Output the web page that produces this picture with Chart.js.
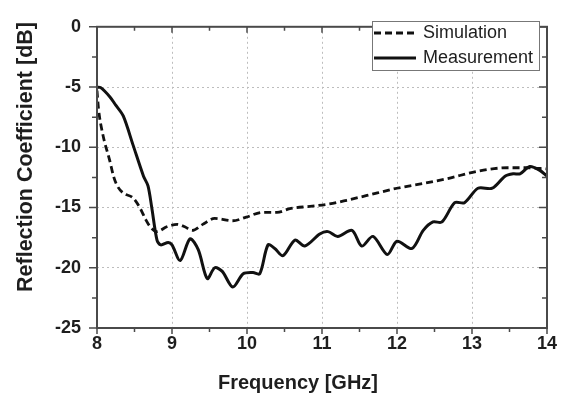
<!DOCTYPE html>
<html>
<head>
<meta charset="utf-8">
<script src="https://cdn.jsdelivr.net/npm/chart.js@4.4.1/dist/chart.umd.min.js"></script>
<style>
html,body{margin:0;padding:0;background:#fff;}
#wrap{width:565px;height:400px;position:relative;}
</style>
</head>
<body>
<div id="wrap"><canvas id="c" width="565" height="400"></canvas></div>
<script>
// ---- data ----
const seriesNames = ['Simulation', 'Measurement'];
const simFreq = [8.0, 8.02, 8.08, 8.17, 8.22, 8.27, 8.35, 8.48, 8.57, 8.65, 8.71, 8.8, 8.93, 9.07, 9.17, 9.27, 9.41, 9.57, 9.81, 9.99, 10.21, 10.4, 10.57, 10.84, 11.1, 11.33, 11.6, 12.0, 12.35, 12.67, 13.07, 13.47, 13.73, 14.0];
const simDb   = [-5.3, -6.8, -9.0, -11.1, -12.4, -13.2, -13.8, -14.2, -15.0, -16.0, -16.6, -17.0, -16.6, -16.4, -16.6, -16.9, -16.4, -15.9, -16.1, -15.8, -15.4, -15.4, -15.1, -14.9, -14.7, -14.4, -14.0, -13.4, -13.0, -12.6, -12.0, -11.7, -11.7, -11.8];
const measFreq = [8.0, 8.05, 8.17, 8.25, 8.35, 8.48, 8.62, 8.68, 8.73, 8.8, 8.85, 8.95, 9.0, 9.11, 9.24, 9.35, 9.47, 9.57, 9.67, 9.81, 9.95, 10.08, 10.17, 10.28, 10.37, 10.48, 10.64, 10.77, 10.97, 11.08, 11.21, 11.4, 11.53, 11.68, 11.87, 12.0, 12.2, 12.35, 12.48, 12.6, 12.77, 12.9, 13.08, 13.27, 13.44, 13.55, 13.64, 13.77, 13.9, 14.0];
const measDb   = [-5.0, -5.05, -5.8, -6.5, -7.4, -9.8, -12.4, -13.2, -15.0, -17.7, -18.1, -17.9, -18.1, -19.4, -17.6, -18.5, -20.9, -20.0, -20.3, -21.6, -20.5, -20.4, -20.5, -18.1, -18.4, -19.0, -17.7, -18.2, -17.2, -17.0, -17.4, -16.9, -18.2, -17.4, -18.9, -17.8, -18.4, -16.9, -16.2, -16.2, -14.6, -14.6, -13.4, -13.4, -12.4, -12.2, -12.2, -11.6, -11.9, -12.4];
const xTicks = [8, 9, 10, 11, 12, 13, 14];
const yTicks = [0, -5, -10, -15, -20, -25];
const xTitle = 'Frequency [GHz]';
const yTitle = 'Reflection Coefficient [dB]';

const pts = (xs, ys) => xs.map((x, i) => ({x: x, y: ys[i]}));

const AXIS = '#4a4a4a';
const TXT = '#1e1e1e';

const framePlugin = {
  id: 'frame',
  afterDraw(chart) {
    const ctx = chart.ctx, a = chart.chartArea;
    const xs = chart.scales.x, ys = chart.scales.y;
    ctx.save();
    ctx.strokeStyle = AXIS;
    ctx.lineWidth = 2;
    ctx.strokeRect(a.left, a.top, a.right - a.left, a.bottom - a.top);
    ctx.lineWidth = 1.5;
    for (let v = xs.min; v <= xs.max + 1e-9; v += 0.5) {
      const p = xs.getPixelForValue(v);
      const major = Math.abs(v - Math.round(v)) < 1e-9;
      const L = major ? 6 : 4;
      ctx.beginPath();
      ctx.moveTo(p, a.bottom); ctx.lineTo(p, a.bottom + L);
      ctx.moveTo(p, a.top); ctx.lineTo(p, a.top + L);
      ctx.stroke();
    }
    for (let v = ys.min; v <= ys.max + 1e-9; v += 2.5) {
      const p = ys.getPixelForValue(v);
      const major = Math.abs(v / 5 - Math.round(v / 5)) < 1e-9;
      const L = major ? 8 : 5;
      ctx.beginPath();
      ctx.moveTo(a.left, p); ctx.lineTo(a.left - L, p);
      ctx.moveTo(a.right, p); ctx.lineTo(a.right - L, p);
      ctx.stroke();
    }
    ctx.fillStyle = TXT;
    ctx.font = 'bold 20px "Liberation Sans", Arial, sans-serif';
    ctx.textAlign = 'center';
    ctx.textBaseline = 'middle';
    ctx.fillText(xTitle, 298, 383);
    ctx.font = 'bold 21.5px "Liberation Sans", Arial, sans-serif';
    ctx.translate(26, 157);
    ctx.rotate(-Math.PI / 2);
    ctx.fillText(yTitle, 0, 0);
    ctx.restore();

    ctx.save();
    const lx = 372, ly = 21, lw = 167, lh = 49;
    ctx.fillStyle = '#fff';
    ctx.fillRect(lx, ly, lw, lh);
    ctx.strokeStyle = '#777';
    ctx.lineWidth = 1;
    ctx.strokeRect(lx + 0.5, ly + 0.5, lw, lh);
    chart.data.datasets.forEach((ds, i) => {
      const cy = 33 + i * 25;
      ctx.strokeStyle = ds.borderColor;
      ctx.lineWidth = ds.borderWidth;
      ctx.setLineDash(ds.borderDash || []);
      ctx.beginPath();
      ctx.moveTo(374, cy); ctx.lineTo(416, cy);
      ctx.stroke();
      ctx.setLineDash([]);
      ctx.fillStyle = TXT;
      ctx.font = '18px "Liberation Sans", Arial, sans-serif';
      ctx.textAlign = 'left';
      ctx.textBaseline = 'middle';
      ctx.fillText(ds.label, 423, cy);
    });
    ctx.restore();
  }
};

new Chart(document.getElementById('c'), {
  type: 'line',
  data: {
    datasets: [
      {label: seriesNames[0], data: pts(simFreq, simDb), borderColor: '#111', borderWidth: 2.8,
       borderDash: [7, 4], pointRadius: 0, tension: 0.4, cubicInterpolationMode: 'monotone', fill: false},
      {label: seriesNames[1], data: pts(measFreq, measDb), borderColor: '#111', borderWidth: 3,
       pointRadius: 0, tension: 0.3, fill: false}
    ]
  },
  options: {
    responsive: false,
    animation: false,
    devicePixelRatio: 1,
    layout: {padding: {top: 14, right: 18, left: 0, bottom: 0}},
    plugins: {legend: {display: false}, tooltip: {enabled: false}},
    scales: {
      x: {
        type: 'linear', min: 8, max: 14,
        afterBuildTicks: s => { s.ticks = xTicks.map(v => ({value: v})); },
        afterFit: s => { s.height = 72; },
        ticks: {color: TXT, font: {family: '"Liberation Sans", Arial, sans-serif', size: 18, weight: 'bold'}, padding: 5, maxRotation: 0},
        grid: {color: '#bdbdbd', lineWidth: 1, drawTicks: false},
        border: {display: false, dash: [2, 3]}
      },
      y: {
        type: 'linear', min: -25, max: 0,
        afterBuildTicks: s => { s.ticks = yTicks.map(v => ({value: v})); },
        afterFit: s => { s.width = 97; },
        ticks: {color: TXT, font: {family: '"Liberation Sans", Arial, sans-serif', size: 18, weight: 'bold'}, padding: 16},
        grid: {color: '#bdbdbd', lineWidth: 1, drawTicks: false},
        border: {display: false, dash: [2, 3]}
      }
    }
  },
  plugins: [framePlugin]
});
</script>
</body>
</html>
